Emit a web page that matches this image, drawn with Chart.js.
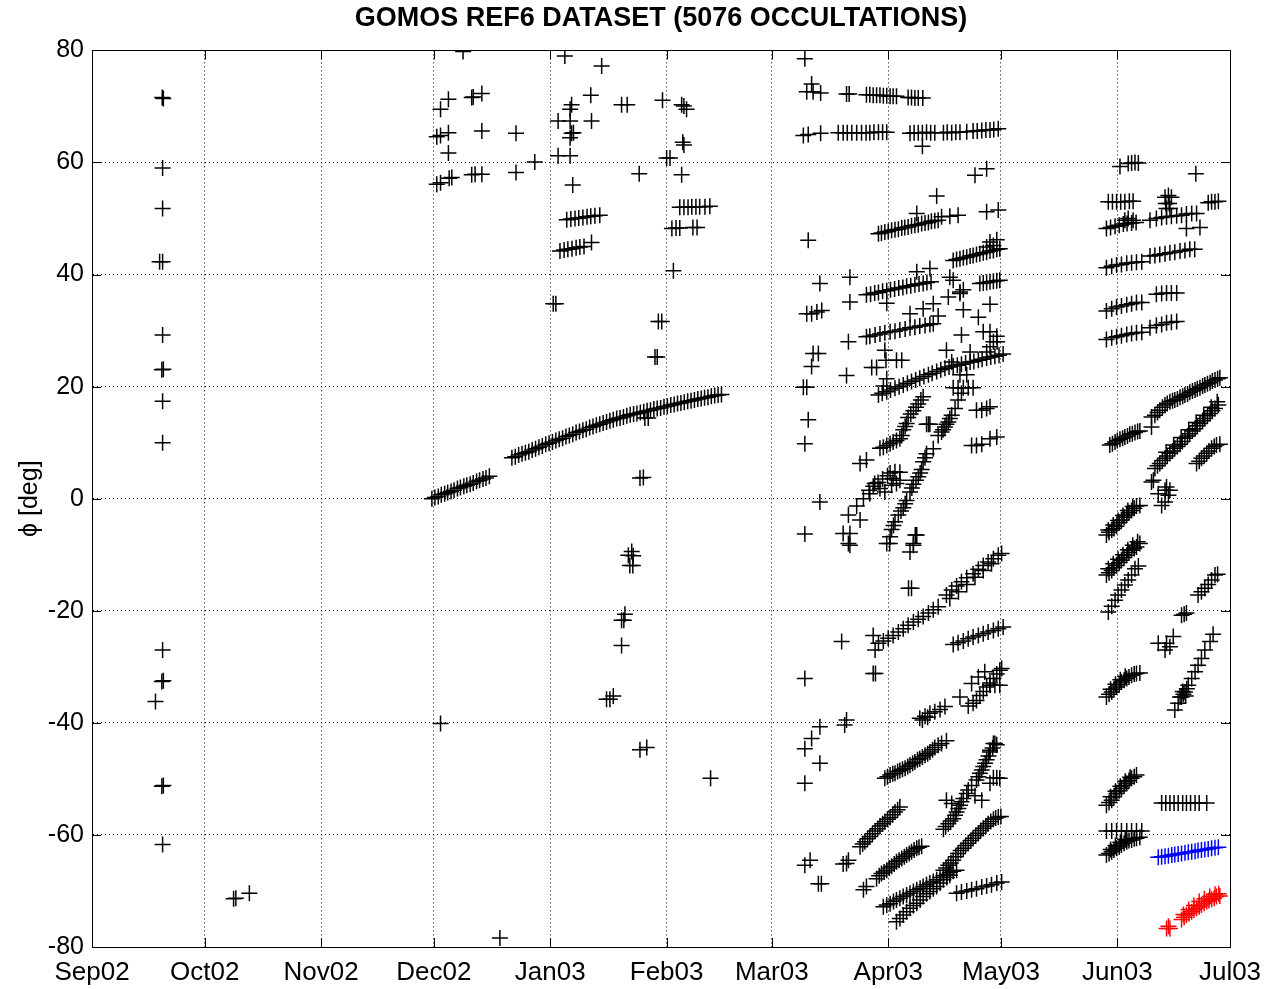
<!DOCTYPE html>
<html>
<head>
<meta charset="utf-8">
<title>GOMOS REF6 DATASET</title>
<script src="https://cdn.jsdelivr.net/npm/chart.js@4.4.1/dist/chart.umd.min.js"></script>
<style>
  html, body { margin: 0; padding: 0; background: #fff; }
  #wrap { width: 1268px; height: 989px; }
</style>
</head>
<body>
<div id="wrap"><canvas id="occ" width="1268" height="989"></canvas></div>
<script>
// x = days since 1 Sep 2002, y = tangent latitude phi in degrees
var monthStarts = [0, 30, 61, 91, 122, 153, 181, 212, 242, 273, 303];
var monthLabels = ['Sep02', 'Oct02', 'Nov02', 'Dec02', 'Jan03', 'Feb03', 'Mar03', 'Apr03', 'May03', 'Jun03', 'Jul03'];

var sepOctPoints = [
  [18.7,71.6],[19.0,71.4],[18.8,59.0],[18.8,51.8],[18.0,42.3],[18.8,42.3],[18.8,29.2],[18.6,23.0],[19.0,23.1],
  [18.8,17.4],[18.8,10.0],[18.8,-27.0],[18.6,-32.6],[19.0,-32.5],[16.9,-36.2],[18.6,-51.3],[19.0,-51.2],
  [18.8,-61.7],[37.7,-71.4],[38.3,-71.3],[41.9,-70.4]
];

var decPoints = [
  [98.8,79.8],[92.8,69.5],[94.9,71.3],[101.1,71.6],[101.5,71.7],[103.8,72.3],[91.8,64.6],[92.8,64.8],[94.9,65.3],
  [103.8,65.6],[112.9,65.2],[94.9,61.7],[117.9,60.1],[112.9,58.2],[91.8,56.1],[92.8,56.4],[95.1,57.2],[95.8,57.3],
  [101.1,57.8],[102.0,57.9],[103.8,57.9],[92.8,-40.1],[108.6,-78.4]
];

var decTrack = [
  [90.5,0.0],[91.3,0.2],[92.2,0.4],[93.0,0.7],[93.9,0.9],[94.7,1.1],[95.6,1.3],[96.4,1.5],[97.3,1.8],[98.1,2.0],
  [99.0,2.2],[99.8,2.4],[100.7,2.6],[101.5,2.8],[102.4,3.1],[103.2,3.3],[104.1,3.5],[104.9,3.7],[105.8,4.0]
];

var janFebTrack = [
  [111.8,7.3],[112.7,7.5],[113.6,7.8],[114.5,8.0],[115.4,8.2],[116.3,8.4],[117.2,8.7],[118.1,8.9],[119.0,9.2],
  [119.9,9.4],[120.8,9.7],[121.7,9.9],[122.6,10.1],[123.5,10.4],[124.4,10.6],[125.3,10.8],[126.2,11.1],[127.1,11.3],
  [128.0,11.5],[128.9,11.8],[129.8,12.0],[130.7,12.2],[131.6,12.4],[132.5,12.7],[133.4,12.9],[134.3,13.1],[135.2,13.3],
  [136.1,13.5],[137.0,13.7],[137.9,13.9],[138.8,14.1],[139.7,14.3],[140.6,14.4],[141.5,14.6],[142.4,14.8],[143.3,15.0],
  [144.2,15.1],[145.1,15.2],[146.0,15.4],[146.9,15.5],[147.8,15.7],[148.7,15.8],[149.6,16.0],[150.5,16.1],[151.4,16.2],
  [152.3,16.4],[153.2,16.5],[154.1,16.7],[155.0,16.8],[155.9,17.0],[156.8,17.1],[157.7,17.2],[158.6,17.4],[159.5,17.5],
  [160.4,17.6],[161.3,17.8],[162.2,17.9],[163.1,18.0],[164.0,18.1],[164.9,18.3],[165.8,18.4],[166.7,18.5],[167.6,18.6]
];

var janFebPoints = [
  [125.9,79.0],[135.7,77.2],[132.8,72.0],[127.7,70.3],[127.3,69.5],[124.1,67.4],[127.3,67.4],[133.0,67.4],[127.7,65.2],
  [128.2,65.3],[127.3,64.4],[124.1,61.2],[127.3,61.2],[128.0,56.0],[141.0,70.3],[142.5,70.3],[151.9,71.1],[157.0,70.3],
  [157.6,70.1],[158.3,69.5],[157.3,63.6],[157.6,63.1],[153.0,60.8],[153.9,60.8],[157.0,57.8],[145.7,58.0],
  [126.4,49.8],[127.5,49.9],[128.6,50.0],[129.6,50.1],[130.7,50.2],[131.8,50.3],[132.8,50.4],[133.9,50.5],[135.2,50.6],
  [124.6,44.2],[125.7,44.4],[126.7,44.5],[127.8,44.6],[128.9,44.8],[129.9,44.9],[131.0,45.0],[133.0,45.7],
  [156.5,52.0],[157.6,52.0],[158.7,52.0],[159.7,52.1],[160.8,52.1],[161.8,52.1],[163.2,52.1],[164.5,52.2],
  [154.4,48.2],[155.5,48.3],[156.5,48.3],[160.0,48.4],[161.1,48.4],
  [154.8,40.7],[122.8,34.8],[123.5,34.8],[150.8,31.6],[151.7,31.6],[149.9,25.3],[150.5,25.3],[145.9,3.7],[146.8,3.8],
  [147.2,14.4],[148.1,14.4],
  [143.7,-9.4],[142.8,-10.1],[144.1,-10.2],[143.2,-11.9],[144.0,-11.9],[141.9,-20.6],[141.0,-21.7],[141.6,-21.7],
  [141.0,-26.2],[137.0,-35.8],[137.9,-35.8],[138.8,-35.2],[145.9,-44.8],[147.7,-44.4],[164.7,-49.9]
];

var marchPoints = [
  [189.8,78.5],[191.6,74.0],[190.3,72.6],[192.0,72.6],[194.0,72.4],[189.4,64.8],[190.7,65.0],[194.0,65.2],
  [190.7,46.1],[193.8,38.4],[201.8,39.5],[201.8,35.1],[190.3,33.0],[191.6,33.0],[193.0,33.3],[194.3,33.6],
  [201.4,28.0],[200.9,22.0],[192.0,25.9],[193.4,25.9],[191.6,23.6],[189.4,19.9],[190.3,19.9],[190.7,14.1],
  [189.8,9.8],[193.8,-0.6],[189.8,-6.3],[189.8,-32.1],[199.6,-25.5],[189.8,-44.6],[191.6,-42.8],[193.8,-40.7],
  [200.9,-39.5],[200.4,-40.4],[193.8,-47.2],[189.8,-50.8],[191.2,-64.5],[189.8,-65.4],[193.4,-68.7],[194.2,-68.7],
  [201.4,-64.5],[200.9,-65.1],[200.0,-65.2],[205.4,-69.8],[206.2,-69.2]
];

var aprilNorth = [
  [200.9,72.2],[201.6,72.2],[206.2,72.1],[207.1,72.1],[208.0,72.0],[208.9,72.0],[209.8,72.0],[210.7,71.9],[211.6,71.9],
  [212.5,71.8],[213.3,71.8],[214.2,71.8],[217.3,71.6],[218.2,71.6],[219.1,71.5],[220.0,71.5],[221.2,71.5],
  [198.7,65.3],[200.0,65.3],[201.1,65.3],[202.3,65.3],[203.6,65.3],[204.9,65.3],[206.1,65.3],[207.1,65.3],[208.2,65.4],
  [209.4,65.4],[210.5,65.4],[211.6,65.4],[217.8,65.2],[218.9,65.3],[220.0,65.3],[221.1,65.3],[222.2,65.4],[223.3,65.3],
  [224.4,65.3],[226.7,65.3],[227.7,65.4],[228.9,65.3],[230.0,65.4],[231.1,65.4],[232.9,65.5],[234.6,65.6],[235.7,65.6],
  [236.9,65.7],[238.0,65.8],[239.1,65.8],[240.1,65.9],[241.3,66.0],[221.1,62.9],
  [209.4,47.3],[210.2,47.4],[211.1,47.6],[212.0,47.7],[212.9,47.9],[213.8,48.0],[214.7,48.1],[215.6,48.3],[216.4,48.4],
  [217.3,48.5],[218.2,48.7],[219.1,48.8],[220.0,48.9],[220.9,49.1],[221.8,49.2],[222.7,49.3],[223.5,49.5],[224.4,49.6],
  [225.3,49.7],[219.6,50.9],[226.2,50.3],[228.4,50.4],[230.6,50.6],[224.9,54.0],[235.1,57.7],[238.2,58.9],[238.2,51.2],
  [241.3,51.5],
  [229.3,42.5],[230.2,42.7],[231.1,42.8],[232.0,43.0],[232.9,43.1],[233.8,43.3],[234.6,43.4],[235.5,43.6],[236.4,43.7],
  [237.3,43.9],[238.2,44.0],[239.1,44.2],[240.0,44.3],[240.9,44.5],[241.7,44.6],[239.1,45.8],[240.9,46.2],[238.2,44.9],
  [240.0,45.2],
  [206.2,36.4],[207.3,36.5],[208.4,36.7],[209.4,36.8],[210.5,37.0],[211.6,37.1],[212.6,37.3],[213.7,37.4],[214.8,37.6],
  [215.9,37.7],[216.9,37.9],[218.0,38.0],[219.1,38.2],[220.2,38.3],[221.3,38.4],[222.3,38.6],[223.4,38.7],
  [219.6,40.5],[223.1,41.1],[228.4,39.5],[229.3,39.0],[231.1,36.9],[232.0,37.3],
  [236.4,38.4],[237.3,38.5],[238.2,38.6],[239.1,38.7],[240.0,38.8],[240.9,38.9],[241.7,39.0],
  [211.6,34.9],[217.8,33.0],[221.3,33.9],[224.0,34.8],[225.3,32.6],[228.0,36.0],[231.1,36.6],[232.0,33.7],[236.0,32.4],
  [239.1,34.7],
  [206.2,28.9],[207.1,29.0],[208.5,29.2],[209.8,29.4],[211.1,29.6],[212.5,29.8],[213.8,29.9],[215.1,30.1],[216.5,30.3],
  [217.8,30.5],[219.1,30.6],[220.4,30.8],[221.8,30.9],[223.1,31.1],[224.0,31.2],
  [231.5,29.2],[239.1,29.8],[240.9,29.0],[241.0,28.0],[237.3,29.8],[239.1,27.1],[238.2,26.2],[240.0,28.0]
];

var aprilTropic = [
  [211.1,26.5],[211.4,24.7],[214.2,24.7],[215.6,24.7],[207.6,23.4],[208.9,23.4],[211.6,21.4],[210.7,20.1],
  [227.5,26.5],[228.9,24.4],[233.8,26.2],
  [209.4,18.5],[210.4,18.8],[211.6,19.1],[212.6,19.4],[213.8,19.7],[214.9,20.0],[216.0,20.3],[217.1,20.6],[218.2,20.9],
  [219.3,21.2],[220.4,21.5],[221.5,21.8],[222.7,22.1],[223.7,22.4],[224.9,22.7],[226.0,23.0],[227.1,23.3],[228.2,23.5],
  [229.3,23.7],[230.4,23.8],[231.5,24.0],[232.6,24.2],[233.8,24.4],[234.8,24.5],[236.0,24.7],[237.0,24.9],[238.2,25.1],
  [239.3,25.3],[240.4,25.4],[241.5,25.6],[242.6,25.8],
  [209.8,9.0],[210.7,9.2],[211.6,9.5],[212.5,9.8],[213.3,10.1],[214.2,10.4],[215.1,10.7],
  [215.6,11.3],[216.0,12.3],[216.5,12.9],[216.9,13.4],[217.3,14.5],[218.0,15.1],[218.7,15.7],[219.4,16.3],[220.0,16.9],
  [220.7,17.6],[221.3,18.2],[222.2,13.3],[222.7,13.3],[223.1,13.3],
  [212.5,-6.8],[212.9,-5.5],[213.4,-4.8],[213.8,-4.1],[214.7,-2.9],[215.4,-2.2],[216.0,-1.6],[216.5,-0.9],[216.9,-0.3],
  [217.8,1.2],[218.3,1.9],[218.7,2.6],[219.4,3.3],[220.0,3.9],[220.5,4.6],[220.9,5.2],[221.3,6.6],[221.8,7.3],[222.2,8.0],
  [224.0,8.9],[225.3,11.3],[226.2,11.9],[226.6,12.3],[227.1,12.8],[227.5,13.3],[228.0,13.7],[228.4,14.3],[228.9,14.9],
  [229.8,16.1],[230.6,17.6],[231.5,18.8],
  [229.3,19.8],[230.6,19.8],[232.0,19.8],[233.3,19.8],[234.6,19.8],[231.1,22.1],[232.9,22.1],
  [235.5,15.8],[236.9,15.8],[238.2,16.1],[239.1,16.4],[234.2,9.5],[235.5,9.5],[236.9,9.7],[239.1,10.7],[240.9,11.0],
  [204.5,6.3],[206.2,6.9],[212.5,4.6],[213.8,4.8],[215.1,4.7],[213.3,3.6],[215.1,3.3],
  [206.9,1.5],[208.0,2.2],[208.4,2.7],[209.3,2.9],[209.8,1.8],[210.5,3.5],[211.1,1.2],[211.8,4.1],[212.9,2.4],[214.2,2.7],
  [207.1,0.9],[205.4,0.0],[203.6,-1.3],[201.4,-2.9],[204.5,-3.8],[200.0,-6.2],[201.8,-6.2],[201.4,-8.0],
  [219.6,-6.5],[219.2,-6.5],[218.7,-8.0],[201.8,-8.3],[211.6,-8.0],[212.4,-8.0],[218.7,-8.3],[217.8,-9.5]
];

var aprilSouth = [
  [217.4,-16.0],[218.2,-16.0],
  [227.5,-17.2],[228.9,-16.3],[230.2,-15.6],[231.5,-14.8],[232.9,-14.1],[234.6,-13.4],[236.0,-12.6],[237.3,-11.9],
  [238.6,-11.3],[240.0,-10.7],[241.3,-10.1],[242.2,-9.8],
  [228.4,-17.8],[230.7,-16.6],[232.9,-15.3],[235.1,-14.0],[237.3,-12.8],[239.5,-11.6],
  [209.4,-25.8],[210.7,-25.4],[212.0,-24.9],[213.3,-24.4],[214.7,-23.8],[216.0,-23.2],[217.3,-22.6],[218.7,-22.0],
  [220.0,-21.5],[221.3,-21.0],[222.7,-20.4],[224.0,-19.8],[225.3,-19.3],
  [208.0,-24.4],[208.5,-27.0],[208.0,-31.2],[208.6,-31.2],
  [229.3,-26.0],[230.6,-25.7],[232.0,-25.4],[233.3,-25.0],[234.6,-24.7],[236.0,-24.4],[237.3,-24.1],[238.6,-23.8],
  [240.0,-23.5],[241.3,-23.2],[242.6,-22.9],
  [233.3,-37.0],[234.6,-36.5],[235.5,-36.0],[236.4,-35.1],[237.3,-34.4],[238.2,-33.6],[239.1,-32.9],[240.0,-32.1],
  [240.9,-31.3],[241.7,-30.6],[242.2,-30.3],[234.2,-33.0],[236.0,-31.8],[237.7,-30.9],[239.1,-33.3],[240.4,-33.3],
  [241.7,-33.3],[231.1,-35.4],
  [220.4,-39.2],[221.1,-39.5],[221.8,-38.8],[222.5,-39.0],[223.1,-38.3],[224.4,-38.0],[225.8,-37.6],[227.1,-37.1],
  [240.0,-43.7],[239.1,-44.9],[240.9,-43.9],
  [211.1,-49.9],[211.8,-49.6],[212.5,-49.3],[213.2,-49.1],[213.8,-49.0],[214.5,-48.7],[215.1,-48.5],[215.8,-48.3],
  [216.5,-48.1],[217.2,-47.8],[217.8,-47.5],[218.5,-47.2],[219.1,-47.0],[219.8,-46.6],[220.4,-46.4],[221.1,-46.1],
  [221.8,-45.8],[222.5,-45.5],[223.1,-45.2],[223.8,-44.8],[224.4,-44.4],[225.3,-44.0],[226.2,-43.7],[227.5,-43.2],
  [204.5,-62.1],[205.2,-61.6],[205.8,-61.2],[206.5,-60.7],[207.1,-60.3],[207.8,-59.8],[208.5,-59.3],[209.2,-58.9],
  [209.8,-58.4],[210.5,-58.0],[211.1,-57.6],[211.8,-57.2],[212.5,-56.9],[213.2,-56.4],[213.8,-55.9],[214.5,-55.5],
  [215.1,-55.0],
  [208.9,-67.8],[209.6,-67.3],[210.2,-66.9],[210.9,-66.6],[211.6,-66.3],[212.3,-65.9],[212.9,-65.6],[213.6,-65.2],
  [214.2,-64.8],[214.9,-64.5],[215.6,-64.2],[216.3,-63.9],[216.9,-63.6],[217.6,-63.3],[218.2,-63.0],[218.9,-62.7],
  [219.6,-62.4],[220.2,-62.2],[220.9,-62.0],
  [210.7,-72.8],[211.6,-72.5],[212.5,-72.3],[213.4,-71.9],[214.2,-71.6],[215.1,-71.3],[216.0,-71.0],[216.9,-70.7],
  [217.8,-70.4],[218.7,-70.1],[219.6,-69.8],[220.5,-69.5],[221.3,-69.2],[222.2,-68.9],[223.1,-68.6],[224.0,-68.3],
  [224.9,-68.0],[225.8,-67.6],[226.7,-67.3],[227.6,-67.0],[228.4,-66.7],[229.3,-66.5],[230.2,-66.3],
  [214.2,-75.5],[215.1,-74.9],[216.0,-74.3],[216.9,-73.7],[217.8,-73.1],[218.7,-72.6],[219.6,-72.2],[220.5,-71.6],
  [221.3,-71.0],[222.2,-70.5],[223.1,-70.1],[224.0,-69.6],[224.9,-69.2],[225.8,-68.6],[226.7,-68.0],[227.6,-67.6],
  [228.4,-67.2],
  [226.7,-59.0],[227.3,-58.5],[228.0,-58.0],[228.6,-57.5],[229.3,-57.1],[229.8,-56.5],[230.2,-55.9],[230.7,-55.3],
  [231.1,-54.7],[231.5,-54.1],[232.0,-53.5],[232.9,-52.6],[227.5,-53.8],[228.9,-54.4],[233.3,-52.0],[234.2,-51.2],
  [235.1,-53.0],[236.9,-53.8],
  [235.5,-50.2],[236.0,-49.6],[236.4,-49.0],[236.9,-48.4],[237.3,-47.8],[237.8,-47.2],[238.2,-46.6],[238.7,-45.9],
  [239.1,-45.2],[239.8,-44.5],[240.4,-43.7],[240.0,-49.8],[240.9,-49.8],[241.7,-49.9],[239.1,-50.8],
  [226.7,-66.3],[227.4,-65.9],[228.0,-65.4],[228.7,-65.0],[229.3,-64.5],[230.0,-63.9],[230.6,-63.3],[231.3,-62.8],
  [232.0,-62.4],[232.6,-61.9],[233.3,-61.5],[234.0,-61.0],[234.6,-60.6],[235.3,-60.1],[236.0,-59.7],[236.6,-59.2],
  [237.3,-58.8],[238.0,-58.4],[238.6,-58.0],[239.3,-57.6],[240.0,-57.2],[240.6,-57.0],[241.3,-56.8],[242.0,-56.7],
  [230.2,-70.4],[231.5,-70.2],[232.9,-70.0],[234.2,-69.8],[235.5,-69.6],[236.9,-69.3],[238.2,-69.1],[239.5,-68.9],
  [240.9,-68.6],[242.2,-68.4]
];

var juneNorth = [
  [273.7,59.3],[275.9,59.8],[276.8,59.9],[277.7,60.0],[278.6,59.9],[293.9,58.0],
  [270.6,53.0],[271.7,53.0],[272.8,53.0],[273.9,53.0],[275.0,53.0],[276.2,53.1],[277.2,53.1],
  [285.7,53.8],[286.6,54.1],[287.4,53.8],[285.9,52.7],[286.8,52.7],[297.2,52.8],[298.1,53.0],[299.0,53.0],[299.9,53.1],
  [270.1,48.2],[271.2,48.4],[272.4,48.6],[273.5,48.8],[274.6,49.0],[275.6,49.1],[276.8,49.2],[278.0,49.3],
  [275.0,49.7],[275.9,50.0],[277.2,49.7],
  [281.7,49.7],[283.4,50.0],[284.8,50.2],[286.1,50.3],[287.4,50.4],[288.8,50.5],[290.1,50.6],[291.4,50.8],[292.8,50.9],
  [294.1,50.9],[286.1,51.8],[287.0,51.8],[291.4,48.2],[295.0,48.4],
  [270.1,41.2],[271.5,41.5],[272.8,41.7],[274.1,41.8],[275.5,42.0],[276.8,42.1],[278.1,42.2],[279.5,42.3],
  [281.7,43.3],[283.0,43.4],[284.3,43.6],[285.7,43.7],[287.0,43.9],[288.3,44.0],[289.7,44.2],[291.0,44.3],[292.3,44.5],
  [293.6,44.5],
  [270.1,33.5],[271.5,33.9],[272.8,34.2],[274.1,34.4],[275.5,34.6],[276.8,34.8],[278.1,35.0],[279.5,35.0],
  [283.4,36.5],[284.8,36.6],[286.1,36.7],[287.4,36.7],[288.8,36.7],
  [270.1,28.4],[271.5,28.7],[272.8,28.9],[274.1,29.1],[275.5,29.3],[276.8,29.5],[278.1,29.6],[279.5,29.7],
  [281.7,30.5],[283.4,30.9],[284.8,31.1],[286.1,31.4],[287.4,31.5],[288.8,31.6]
];

var juneTropic = [
  [271.0,9.6],[271.7,9.8],[272.4,10.1],[273.0,10.4],[273.7,10.6],[274.4,10.8],[275.0,11.0],[275.7,11.2],[276.3,11.5],
  [277.0,11.6],[277.7,11.8],[278.4,12.0],[279.0,12.1],
  [283.0,14.9],[283.7,15.4],[284.3,15.8],[285.0,16.3],[285.7,16.7],[286.3,17.0],[287.0,17.3],[287.7,17.5],[288.3,17.6],
  [289.0,17.8],[289.7,18.1],[290.4,18.3],[291.0,18.5],[291.7,18.7],[292.3,19.0],[293.0,19.2],[293.7,19.4],[294.3,19.6],
  [295.0,19.8],[295.7,20.1],[296.3,20.3],[297.0,20.5],[297.7,20.7],[298.3,21.0],[299.0,21.2],[299.7,21.4],[300.3,21.6],
  [282.1,14.6],[282.1,12.8],
  [283.0,5.4],[283.7,5.9],[284.3,6.3],[285.0,6.8],[285.7,7.2],[286.3,7.6],[287.0,8.1],[287.7,8.5],[288.3,9.0],
  [289.0,9.3],[289.7,9.7],[290.3,10.2],[291.0,10.8],[291.7,11.2],[292.3,11.6],[293.0,12.1],[293.7,12.5],[294.3,13.0],
  [295.0,13.4],[295.7,13.9],[296.3,14.3],[297.0,14.8],[297.7,15.2],[298.3,15.7],[299.0,16.1],[299.9,16.7],
  [286.0,8.3],[288.0,9.6],[290.0,10.9],[292.0,12.3],[294.0,13.6],[296.0,14.9],[298.0,16.3],[299.6,17.3],
  [294.1,6.3],[294.8,6.7],[295.4,7.2],[296.1,7.6],[296.8,8.1],[297.4,8.5],[298.1,9.0],[298.8,9.3],[299.4,9.6],[300.3,9.7],
  [282.6,3.3],[283.9,0.9],[285.7,1.5],[286.1,2.1],[282.1,3.0],[284.8,-1.2],[285.7,-0.6],[286.6,0.6],[287.0,1.5],
  [270.1,-6.5],[270.8,-6.0],[271.5,-5.6],[272.1,-5.3],[272.8,-4.9],[273.5,-4.3],[274.1,-3.8],[274.8,-3.3],[275.5,-2.9],
  [276.1,-2.5],[276.8,-2.1],[277.5,-1.7],[278.1,-1.3],[279.0,-1.2],
  [270.6,-5.6],[271.9,-4.7],[273.2,-3.9],[274.5,-3.0],[275.8,-2.1],[277.1,-1.4],
  [270.1,-13.6],[270.8,-13.2],[271.5,-12.8],[272.1,-12.3],[272.8,-11.9],[273.5,-11.4],[274.1,-11.0],[274.8,-10.5],
  [275.5,-10.1],[276.1,-9.6],[276.8,-9.2],[277.5,-8.9],[278.1,-8.6],[279.0,-8.0],
  [270.6,-12.5],[271.9,-11.6],[273.2,-10.8],[274.5,-10.0],[275.8,-9.1],[277.1,-8.3],[278.4,-7.7]
];

var juneSouth = [
  [270.6,-20.2],[271.5,-19.2],[272.4,-18.1],[273.2,-17.2],[274.1,-16.3],[275.0,-15.4],[275.9,-14.5],[276.8,-13.6],
  [277.7,-12.5],[278.6,-12.0],
  [290.1,-20.8],[290.8,-20.6],[291.4,-20.4],
  [294.5,-17.2],[295.4,-16.6],[296.3,-16.0],[297.2,-15.3],[298.1,-14.5],[299.0,-13.6],[299.7,-13.5],
  [283.9,-25.8],[286.1,-25.8],[287.0,-26.4],[287.9,-24.6],[285.7,-27.0],
  [288.3,-37.7],[289.2,-36.5],[290.1,-35.4],[290.6,-34.9],[291.0,-34.5],[291.5,-33.9],[291.9,-33.3],[292.8,-32.1],
  [293.7,-30.9],[294.5,-29.7],[295.4,-28.5],[296.3,-27.0],[297.7,-25.5],[298.5,-24.2],[289.7,-35.4],[290.4,-34.4],
  [291.2,-35.2],
  [270.1,-35.4],[270.8,-34.9],[271.5,-34.5],[272.1,-34.0],[272.8,-33.6],[273.5,-33.2],[274.1,-32.7],[274.8,-32.4],
  [275.5,-32.1],[276.1,-31.8],[276.8,-31.5],[277.5,-31.3],[278.1,-31.2],[279.0,-31.1],
  [271.2,-34.0],[272.5,-33.1],[273.8,-32.3],[275.1,-31.7],
  [270.1,-54.7],[270.8,-54.2],[271.5,-53.8],[272.1,-53.2],[272.8,-52.6],[273.5,-52.1],[274.1,-51.7],[274.8,-51.2],
  [275.5,-50.8],[276.1,-50.3],[276.8,-49.9],[277.5,-49.6],[278.1,-49.3],
  [271.2,-53.2],[272.5,-52.2],[273.8,-51.3],[275.1,-50.4],[276.4,-49.7],
  [270.1,-59.3],[271.5,-59.3],[272.8,-59.3],[274.1,-59.3],[275.5,-59.3],[276.8,-59.3],[278.1,-59.3],[279.5,-59.3],
  [270.1,-63.6],[270.8,-63.3],[271.5,-63.0],[272.1,-62.7],[272.8,-62.4],[273.5,-62.1],[274.1,-61.8],[274.8,-61.5],
  [275.5,-61.2],[276.1,-61.0],[276.8,-60.9],[277.5,-60.7],[278.1,-60.6],[279.0,-60.4],
  [271.2,-62.6],[272.5,-61.9],[273.8,-61.3],[275.1,-60.8],
  [284.8,-54.3],[285.9,-54.3],[287.0,-54.3],[288.1,-54.3],[289.2,-54.3],[290.4,-54.3],[291.4,-54.3],[292.5,-54.3],
  [293.7,-54.3],[294.8,-54.3],[296.8,-54.3]
];

var juneBlue = [
  [283.9,-64.0],[284.8,-63.9],[285.7,-63.8],[286.6,-63.7],[287.5,-63.6],[288.3,-63.5],[289.2,-63.4],[290.1,-63.3],
  [291.0,-63.2],[291.9,-63.1],[292.8,-63.0],[293.7,-62.9],[294.5,-62.8],[295.4,-62.7],[296.3,-62.6],[297.2,-62.5],
  [298.1,-62.4],[299.0,-62.3],[299.9,-62.2]
];

var juneRed = [
  [286.1,-76.7],[287.0,-76.7],[286.6,-76.3],[290.1,-75.1],[290.8,-74.7],[291.4,-74.3],[292.1,-74.0],[292.8,-73.7],
  [293.4,-73.4],[294.1,-73.1],[294.8,-72.8],[295.4,-72.5],[296.1,-72.2],[296.8,-71.9],[297.4,-71.7],[298.1,-71.5],
  [298.8,-71.3],[299.4,-71.0],[300.3,-70.9],
  [290.6,-74.2],[292.0,-73.3],[293.4,-72.6],[294.8,-71.9],[296.2,-71.4],[297.6,-71.0],[299.0,-70.6],[300.0,-70.5]
];

function toXY(p) { return { x: p[0], y: p[1] }; }

var blackPoints = [].concat(sepOctPoints, decPoints, decTrack, janFebTrack, janFebPoints, marchPoints,
  aprilNorth, aprilTropic, aprilSouth, juneNorth, juneTropic, juneSouth);

// matlab style box with inward ticks
var axesBox = {
  id: 'axesBox',
  afterDraw: function(chart) {
    var a = chart.chartArea, ctx = chart.ctx;
    var xs = chart.scales.x, ys = chart.scales.y;
    ctx.save();
    ctx.strokeStyle = '#000';
    ctx.lineWidth = 1;
    ctx.beginPath();
    monthStarts.forEach(function(v) {
      var px = Math.round(xs.getPixelForValue(v)) + 0.5;
      ctx.moveTo(px, a.bottom); ctx.lineTo(px, a.bottom - 9);
      ctx.moveTo(px, a.top); ctx.lineTo(px, a.top + 9);
    });
    ys.ticks.forEach(function(t) {
      var py = Math.round(ys.getPixelForValue(t.value)) + 0.5;
      ctx.moveTo(a.left, py); ctx.lineTo(a.left + 9, py);
      ctx.moveTo(a.right, py); ctx.lineTo(a.right - 9, py);
    });
    ctx.stroke();
    ctx.strokeRect(Math.round(a.left) + 0.5, Math.round(a.top) + 0.5,
      Math.round(a.right - a.left), Math.round(a.bottom - a.top));
    ctx.restore();
  }
};

Chart.defaults.font.family = '"Liberation Sans", Arial, Helvetica, sans-serif';
Chart.defaults.color = '#000';

new Chart(document.getElementById('occ'), {
  type: 'scatter',
  data: {
    datasets: [
      { label: 'occultations', data: blackPoints.map(toXY), borderColor: '#000', backgroundColor: '#000' },
      { label: 'blue', data: juneBlue.map(toXY), borderColor: '#0000ff', backgroundColor: '#0000ff' },
      { label: 'red', data: juneRed.map(toXY), borderColor: '#ff0000', backgroundColor: '#ff0000' }
    ]
  },
  options: {
    responsive: false,
    animation: false,
    devicePixelRatio: 1,
    layout: { padding: { left: 0, right: 38, top: 0, bottom: 0 } },
    elements: { point: { pointStyle: 'cross', radius: 8, borderWidth: 1.5, hoverRadius: 8 } },
    plugins: {
      legend: { display: false },
      tooltip: { enabled: false },
      title: {
        display: true,
        fullSize: false,
        text: 'GOMOS REF6 DATASET (5076 OCCULTATIONS)',
        color: '#000',
        font: { size: 27, weight: 'bold' },
        padding: { top: 2, bottom: 16 }
      }
    },
    scales: {
      x: {
        type: 'linear',
        min: 0,
        max: 303,
        afterBuildTicks: function(s) { s.ticks = monthStarts.map(function(v) { return { value: v }; }); },
        afterFit: function(s) { s.height = 42; s.paddingLeft = 0; s.paddingRight = 0; },
        ticks: {
          autoSkip: false,
          maxRotation: 0,
          color: '#000',
          font: { size: 26 },
          padding: 10,
          callback: function(v) { var i = monthStarts.indexOf(v); return i < 0 ? '' : monthLabels[i]; }
        },
        grid: { color: '#000', lineWidth: 1, drawTicks: false },
        border: { color: '#000', dash: [1, 3] }
      },
      y: {
        min: -80,
        max: 80,
        afterFit: function(s) { s.width = 92; },
        ticks: { stepSize: 20, color: '#000', font: { size: 25 }, padding: 8 },
        grid: { color: '#000', lineWidth: 1, drawTicks: false },
        border: { color: '#000', dash: [1, 3] },
        title: { display: true, text: 'ϕ [deg]', color: '#000', font: { size: 25 }, padding: { top: 15, bottom: 0 } }
      }
    }
  },
  plugins: [axesBox]
});
</script>
</body>
</html>
